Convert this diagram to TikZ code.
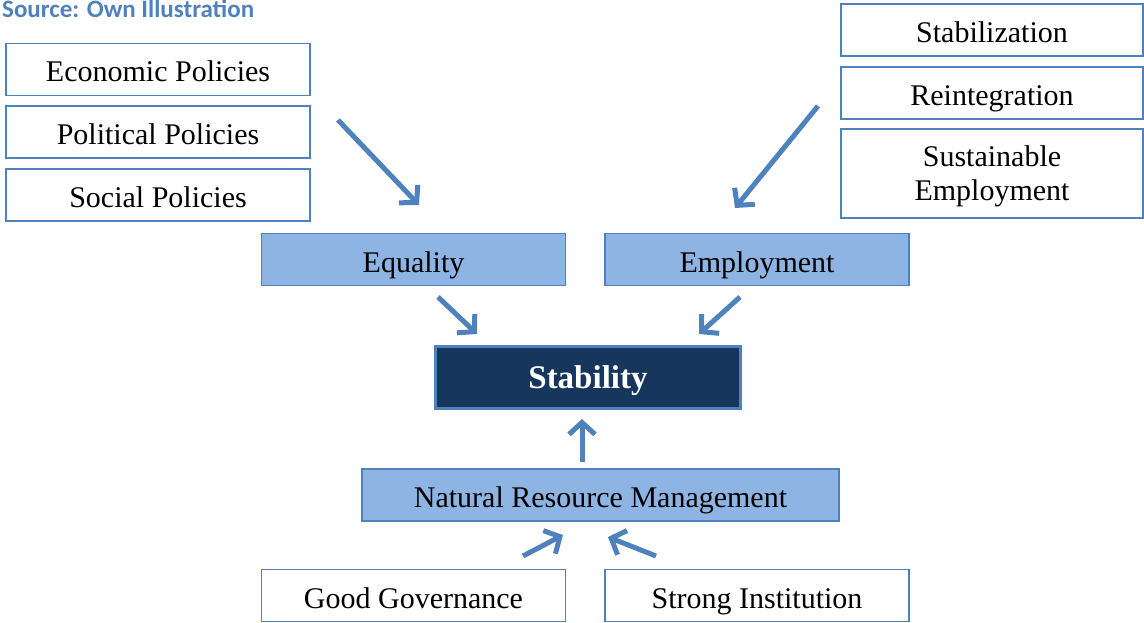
\documentclass[tikz,border=0pt]{standalone}
\usepackage{fontspec}
\setmainfont{Liberation Serif}
\newfontfamily\srcfont{Carlito}
\usetikzlibrary{arrows.meta}
\definecolor{boxline}{RGB}{79,129,189}
\definecolor{boxfill}{RGB}{141,180,226}
\definecolor{corefill}{RGB}{23,54,93}
\tikzstyle{plain} = [rectangle, draw=boxline, line width=1.5pt, fill=white, minimum width=304pt, minimum height=52pt, inner sep=0pt, align=center, text height=28pt, text depth=3pt, font=\fontsize{30}{34}\selectfont]
\tikzstyle{factor} = [plain, fill=boxfill]
\tikzstyle{core} = [plain, fill=corefill, line width=3pt, minimum width=305pt, minimum height=62pt, text=white, text height=24pt, text depth=3pt, font=\fontsize{33}{36}\selectfont\bfseries]
\tikzstyle{arrow} = [line width=5pt, draw=boxline, -{Straight Barb[length=12pt,width=26pt]}]

\begin{document}
\begin{tikzpicture}[x=1pt, y=-1pt]
        \useasboundingbox (0,0) rectangle (1144,623);
        \node (Src) [anchor=base west, text=boxline, font=\srcfont\fontsize{25}{30}\selectfont\bfseries, inner sep=0pt] at (2,18) {Source: Own Illustration};

        % left stack
        \node (Econ) [plain] at (158,69.5) {Economic Policies};
        \node (Polit) [plain] at (158,132) {Political Policies};
        \node (Soc) [plain] at (158,195) {Social Policies};

        % right stack
        \node (Stabz) [plain, minimum width=302pt] at (992,30) {Stabilization};
        \node (Reint) [plain, minimum width=302pt] at (992,93) {Reintegration};
        \node (SustEmp) [plain, minimum width=302pt, minimum height=89pt, text height=, text depth=0pt] at (992,173.5) {Sustainable\\Employment};

        % middle
        \node (Eq) [factor] at (413.5,259.5) {Equality};
        \node (Emp) [factor] at (757,259.5) {Employment};
        \node (Stab) [core] at (588,377.5) {Stability};
        \node (NRM) [factor, minimum width=477pt] at (600.5,495) {Natural Resource Management};
        \node (GoodGov) [plain] at (413.5,595.5) {Good Governance};
        \node (StrInst) [plain] at (757,595.5) {Strong Institution};

        % arrow ends
        \coordinate (PolFrom) at (338,120);
        \coordinate (PolTo) at (419,205);
        \coordinate (ReiFrom) at (818,106);
        \coordinate (ReiTo) at (735,208);
        \coordinate (EqFrom) at (438,297);
        \coordinate (EqTo) at (477,334);
        \coordinate (EmpFrom) at (740,297);
        \coordinate (EmpTo) at (699,334);
        \coordinate (NrmFrom) at (582,462);
        \coordinate (NrmTo) at (582,419);
        \coordinate (GovFrom) at (523,556);
        \coordinate (GovTo) at (563,535);
        \coordinate (InsFrom) at (656,556);
        \coordinate (InsTo) at (608,537);

        \draw [arrow] (PolFrom) -- (PolTo);
        \draw [arrow] (ReiFrom) -- (ReiTo);
        \draw [arrow] (EqFrom) -- (EqTo);
        \draw [arrow] (EmpFrom) -- (EmpTo);
        \draw [arrow] (NrmFrom) -- (NrmTo);
        \draw [arrow] (GovFrom) -- (GovTo);
        \draw [arrow] (InsFrom) -- (InsTo);

    \end{tikzpicture}
\end{document}
